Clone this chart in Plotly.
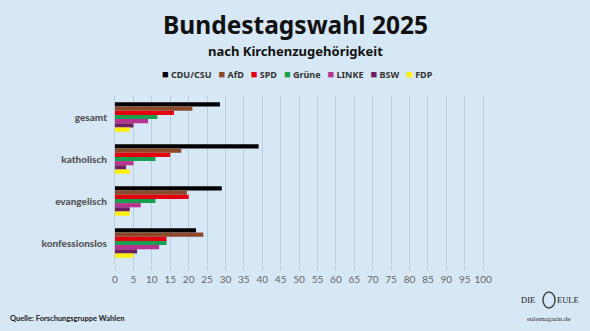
import plotly.graph_objects as go

categories = ["gesamt", "katholisch", "evangelisch", "konfessionslos"]
parties = ["CDU/CSU", "AfD", "SPD", "Grüne", "LINKE", "BSW", "FDP"]
colors = ["#000000", "#8b4a2b", "#e3000f", "#1a9f50", "#b8338f", "#6e1f5f", "#ffef00"]

cdu = [28.5, 39, 29, 22]
afd = [21, 18, 19.5, 24]
spd = [16, 15, 20, 14]
gruene = [11.5, 11, 11, 14]
linke = [9, 5, 7, 12]
bsw = [5, 3, 4, 6]
fdp = [4, 4, 4, 5]
values = [cdu, afd, spd, gruene, linke, bsw, fdp]

xticks = list(range(0, 101, 5))

bg = "#d6e7f5"
fig = go.Figure()
for name, col, vals in zip(parties, colors, values):
    fig.add_trace(go.Bar(
        y=categories, x=vals, name=name, orientation="h",
        marker=dict(color=col, line=dict(width=0)),
    ))

fig.update_layout(
    width=590, height=331,
    paper_bgcolor=bg, plot_bgcolor=bg,
    margin=dict(l=115, r=105, t=96, b=67),
    barmode="group", bargap=0.3, bargroupgap=0,
    font=dict(family="Noto Sans", color="#555555"),
    showlegend=False,
    xaxis=dict(range=[0, 100.5], tickvals=xticks, ticktext=[str(t) for t in xticks],
               showgrid=True, gridcolor="#b9cde0", gridwidth=1.2, zeroline=False,
               ticks="outside", ticklen=6, tickcolor="#b9cde0",
               tickfont=dict(size=10, color="#666666", family="Lato"), showline=False),
    yaxis=dict(autorange="reversed", showgrid=False, zeroline=False,
               ticks="outside", ticklen=5, tickcolor="rgba(0,0,0,0)",
               tickfont=dict(size=10, color="#555555", family="Lato Black"),
               showline=True, linecolor="#b9cde0", linewidth=1),
)

# legend built as a single text line from the party lists
legend_text = "&nbsp;&nbsp;&nbsp;".join(
    f"<span style='color:{c};font-size:11px'>■</span> {p}" for p, c in zip(parties, colors)
)
fig.add_annotation(text=f"<b>{legend_text}</b>", xref="paper", yref="paper",
                   x=(297-115)/370, y=1 + (96-73)/168, xanchor="center", yanchor="middle",
                   showarrow=False, font=dict(size=9, color="#333333", family="Noto Sans"))

fig.add_annotation(text="<b>Bundestagswahl 2025</b>", xref="paper", yref="paper",
                   x=(295-115)/370, y=1 + (96-24)/168, xanchor="center", yanchor="middle",
                   showarrow=False, font=dict(size=24.5, color="#111111", family="Noto Sans"))
fig.add_annotation(text="<b>nach Kirchenzugehörigkeit</b>", xref="paper", yref="paper",
                   x=(295-115)/370, y=1 + (96-51)/168, xanchor="center", yanchor="middle",
                   showarrow=False, font=dict(size=13, color="#111111", family="Noto Sans"))
fig.add_annotation(text="<b>Quelle: Forschungsgruppe Wahlen</b>", xref="paper", yref="paper",
                   x=(8-115)/370, y=-(318-264)/168, xanchor="left", yanchor="middle",
                   showarrow=False, font=dict(size=7.5, color="#222222", family="Lato"))
fig.add_annotation(text="DIE", xref="paper", yref="paper",
                   x=(528-115)/370, y=-(300-264)/168, xanchor="center", yanchor="middle",
                   showarrow=False, font=dict(size=8.5, color="#222222", family="Liberation Serif"))
fig.add_annotation(text="EULE", xref="paper", yref="paper",
                   x=(568-115)/370, y=-(300-264)/168, xanchor="center", yanchor="middle",
                   showarrow=False, font=dict(size=8.5, color="#222222", family="Liberation Serif"))
fig.add_annotation(text="eulemagazin.de", xref="paper", yref="paper",
                   x=(549-115)/370, y=-(319-264)/168, xanchor="center", yanchor="middle",
                   showarrow=False, font=dict(size=7, color="#333333", family="Liberation Serif"))
fig.add_shape(type="circle", xref="paper", yref="paper",
              x0=(543-115)/370, x1=(555-115)/370, y0=-(308-264)/168, y1=-(292-264)/168,
              line=dict(color="#444444", width=1.5), fillcolor="rgba(0,0,0,0)")

fig.write_html("out.html")
